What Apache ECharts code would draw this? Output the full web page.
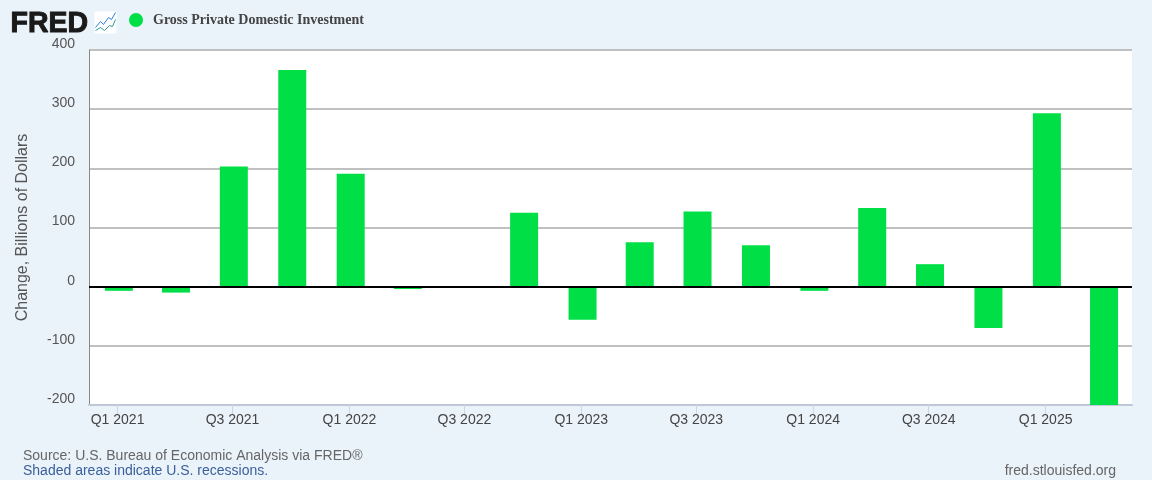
<!DOCTYPE html>
<html>
<head>
<meta charset="utf-8">
<script src="https://cdn.jsdelivr.net/npm/echarts@6/dist/echarts.min.js"></script>
<style>html,body{margin:0;padding:0;background:#eaf2fa}#c{width:1152px;height:480px}</style>
</head>
<body>
<div id="c"></div>
<script>
const categories = ["Q1 2021","Q2 2021","Q3 2021","Q4 2021","Q1 2022","Q2 2022","Q3 2022","Q4 2022","Q1 2023","Q2 2023","Q3 2023","Q4 2023","Q1 2024","Q2 2024","Q3 2024","Q4 2024","Q1 2025","Q2 2025"];
const quarterStarts = ["2021-01-01","2021-04-01","2021-07-01","2021-10-01","2022-01-01","2022-04-01","2022-07-01","2022-10-01","2023-01-01","2023-04-01","2023-07-01","2023-10-01","2024-01-01","2024-04-01","2024-07-01","2024-10-01","2025-01-01","2025-04-01"];
const investment = [-7,-10,203,366,191,-4,0,125,-56,75,127,70,-7,133,38,-70,293,-200];
const seriesName = "Gross Private Domestic Investment";
const yTicks = {min:-200,max:400,interval:100};
const xRange = {min:"2020-11-15",max:"2025-05-15"};

const DAY = 86400000;
const days = s => Date.parse(s + "T00:00:00Z") / DAY;
const tickShift = 2;
const labelled = quarterStarts.map((d,i)=>({t:days(d)-tickShift,label:categories[i]})).filter((_,i)=>i%2===0);
const labelAt = Object.fromEntries(labelled.map(o=>[o.t,o.label]));
const tickValues = labelled.map(o=>o.t);

const chart = echarts.init(document.getElementById('c'), null, {renderer:'canvas'});
const sans = '"Liberation Sans", Arial, sans-serif';
chart.setOption({
  animation:false,
  backgroundColor:'#eaf2fa',
  grid:{left:89,right:20,top:50,bottom:75,backgroundColor:'#ffffff',show:true,borderWidth:0},
  legend:{
    show:true,left:124,top:8,itemWidth:20,itemHeight:14,itemGap:0,icon:'circle',
    data:[seriesName],
    textStyle:{fontFamily:'"Liberation Serif", serif',fontWeight:'bold',fontSize:14,color:'#444444',padding:[0,0,0,2]}
  },
  xAxis:{
    type:'value',min:days(xRange.min),max:days(xRange.max),position:'bottom',scale:true,
    axisLine:{show:true,onZero:false,lineStyle:{color:'#c0c8d8',width:2}},
    axisTick:{show:true,customValues:tickValues,length:9,lineStyle:{color:'#ccd6eb',width:1}},
    axisLabel:{customValues:tickValues,color:'#444444',fontFamily:sans,fontSize:14,margin:8,hideOverlap:false,showMinLabel:true,showMaxLabel:true,
      formatter:v=>labelAt[v]||''},
    splitLine:{show:false}
  },
  yAxis:{
    type:'value',min:yTicks.min,max:yTicks.max,interval:yTicks.interval,
    name:'Change, Billions of Dollars',nameLocation:'middle',nameGap:58,
    nameTextStyle:{fontFamily:sans,fontSize:16,color:'#555555'},
    axisLine:{show:true,onZero:false,lineStyle:{color:'#888888',width:1}},
    axisTick:{show:false},
    axisLabel:{color:'#555555',fontFamily:sans,fontSize:14,margin:14,verticalAlign:'bottom',lineHeight:12},
    splitLine:{show:true,lineStyle:{color:'#c0c0c0',width:2}}
  },
  series:[{
    name:seriesName,type:'bar',data:quarterStarts.map((d,i)=>[days(d),investment[i]]),barWidth:28,
    itemStyle:{color:'#00df45'},
    markLine:{
      silent:true,symbol:'none',label:{show:false},
      lineStyle:{color:'#000000',width:2,type:'solid'},
      emphasis:{disabled:true},
      data:[{yAxis:0}]
    }
  }],
  graphic:[
    {type:'text',left:10,top:8,scaleX:0.95,style:{text:'FRED',fontFamily:sans,fontWeight:'bold',fontSize:30,fill:'#1a1a1a',stroke:'#1a1a1a',lineWidth:1}},
    {type:'group',left:93,top:10,children:[
      {type:'rect',shape:{x:0,y:0,width:22,height:22,r:1},style:{fill:'#ffffff'}},
      {type:'polyline',shape:{points:[[1,16],[6,10],[9,13],[14,6],[17,8],[21,1]]},style:{stroke:'#2f7ed8',lineWidth:1,fill:null}},
      {type:'polyline',shape:{points:[[1,19],[6,16],[10,19],[15,14],[18,15],[21,8]]},style:{stroke:'#2a9d8f',lineWidth:1,fill:null}}
    ]},
    {type:'text',left:23,top:449,style:{text:'Source: U.S. Bureau of Economic Analysis via FRED®',fontFamily:sans,fontSize:14,fill:'#666666'}},
    {type:'text',left:23,top:464,style:{text:'Shaded areas indicate U.S. recessions.',fontFamily:sans,fontSize:14,fill:'#3a5f9a'}},
    {type:'text',right:36,top:464,style:{text:'fred.stlouisfed.org',fontFamily:sans,fontSize:14,fill:'#666666'}}
  ]
});
</script>
</body>
</html>
